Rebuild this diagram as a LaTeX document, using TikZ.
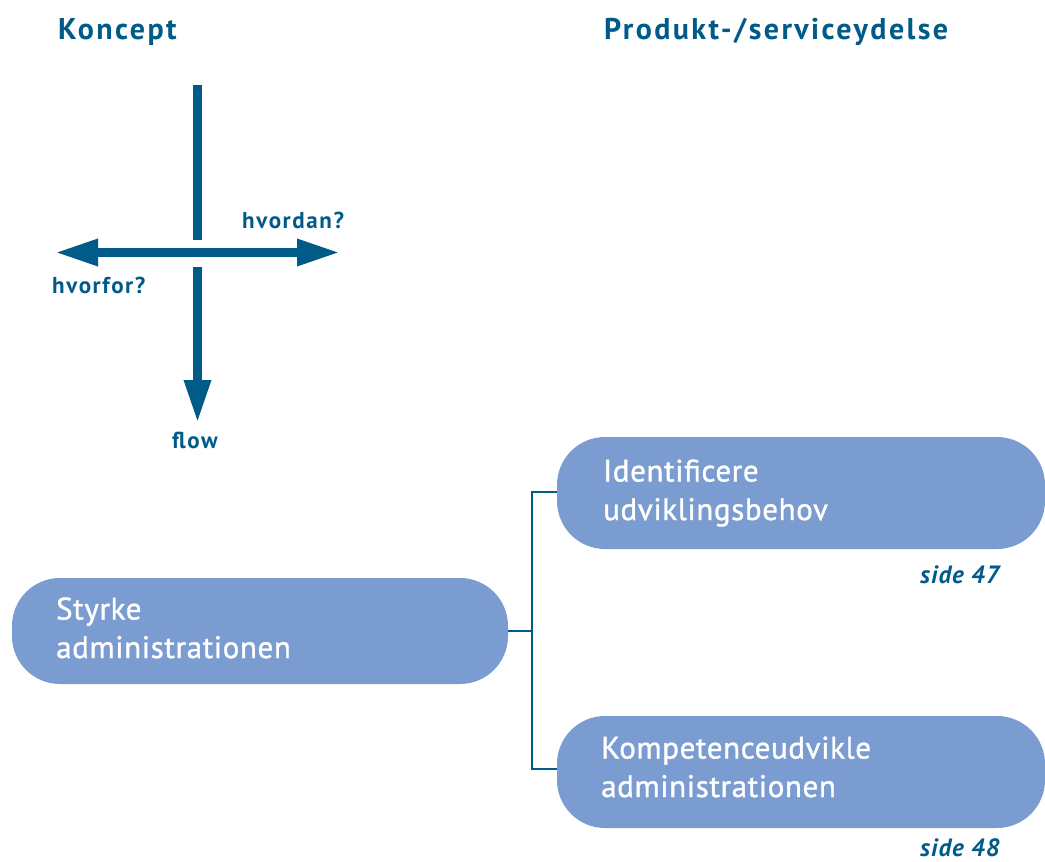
\documentclass[tikz,border=0pt]{standalone}
\usepackage{fontspec}
\setmainfont{PT Sans}
\newfontfamily\headfont[LetterSpace=8]{PT Sans}
\newfontfamily\labelfont[LetterSpace=7]{PT Sans}
\newfontfamily\refsfont[LetterSpace=4]{PT Sans}
\newfontfamily\boxfont[LetterSpace=2,FakeBold=1.2]{PT Sans}
\usetikzlibrary{arrows.meta}
\definecolor{navy}{HTML}{005B88}
\definecolor{boxblue}{HTML}{7A9CD0}
\tikzset{
  heading/.style={anchor=base west, inner sep=0pt, text=navy, font=\headfont\fontsize{30}{34}\selectfont\bfseries},
  axislabel/.style={anchor=base west, inner sep=0pt, text=navy, font=\labelfont\fontsize{23}{26}\selectfont\bfseries},
  pageref/.style={anchor=base west, inner sep=0pt, text=navy, font=\refsfont\fontsize{25}{28}\selectfont\bfseries\itshape},
  stepbox/.style={draw=none, fill=boxblue, rounded corners=48pt},
  boxtext/.style={anchor=base west, inner sep=0pt, text=white, font=\boxfont\fontsize{31}{38.5}\selectfont, align=left},
  axis/.style={navy, line width=9pt},
  axisarrow/.style={axis, -{Triangle[length=43pt,width=25pt]}},
  link/.style={navy, line width=2pt}
}
\begin{document}
\begin{tikzpicture}[x=1pt,y=-1pt]
\useasboundingbox (0,0) rectangle (1045,862);

% column headings
\node[heading] (hKoncept) at (58,39) {Koncept};
\node[heading] (hProdukt) at (604,39) {Produkt-/serviceydelse};

% orientation cross
\coordinate (vTop) at (197.5,85);
\coordinate (vGapTop) at (197.5,240);
\coordinate (vGapBot) at (197.5,267);
\coordinate (vTip) at (197.5,423);
\coordinate (hMid) at (197.5,252.5);
\coordinate (hLeft) at (55,252.5);
\coordinate (hRight) at (340,252.5);
\draw[axis] (vTop) -- (vGapTop);
\draw[axisarrow] (vGapBot) -- (vTip);
\draw[axisarrow] (hMid) -- (hLeft);
\draw[axisarrow] (hMid) -- (hRight);

\node[axislabel] (lHvordan) at (242,228) {hvordan?};
\node[axislabel] (lHvorfor) at (52,293) {hvorfor?};
\node[axislabel] (lFlow) at (172,448) {flow};

% process boxes
\path[stepbox] (12,578) rectangle (508,684);
\path[stepbox] (557,437) rectangle (1045,549);
\path[stepbox] (557,716) rectangle (1045,828);
\coordinate (bStyrke) at (508,631);
\coordinate (bIdent) at (557,492);
\coordinate (bKomp) at (557,769);

% box captions (positioned on the baseline of their last line)
\node[boxtext] (tStyrke) at (56,658) {Styrke\\administrationen};
\node[boxtext] (tIdent) at (603,520) {Identificere\\udviklingsbehov};
\node[boxtext] (tKomp) at (601,797) {Kompetenceudvikle\\administrationen};

% connectors
\coordinate (jMid) at (532,631);
\draw[link] (bStyrke) -- (jMid);
\draw[link] (bIdent) -| (jMid) |- (bKomp);

\node[pageref] (p47) at (920,583) {side 47};
\node[pageref] (p48) at (920,856) {side 48};
\end{tikzpicture}
\end{document}
